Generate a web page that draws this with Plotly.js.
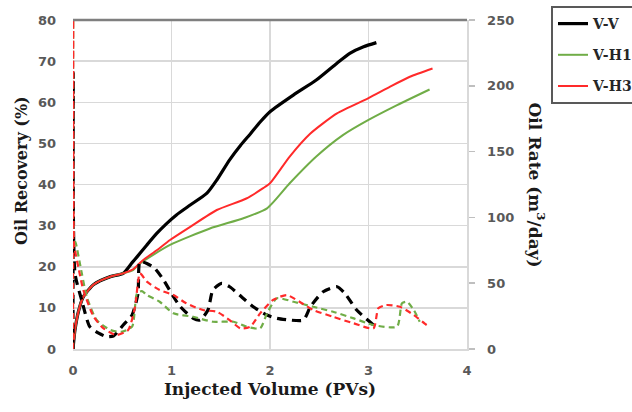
<!DOCTYPE html>
<html>
<head>
<meta charset="utf-8">
<script src="https://cdn.plot.ly/plotly-3.0.1.min.js"></script>
<style>html,body{margin:0;padding:0;background:#fff;}#chart{width:632px;height:412px;}</style>
</head>
<body>
<div id="chart"></div>
<script>
// ---- Oil recovery (%) vs injected volume (PVs), left axis ----
const vvRecX = [0,0.02,0.054,0.105,0.21,0.38,0.51,0.6,0.65,0.75,0.85,0.95,1.05,1.19,1.36,1.46,1.59,1.70,1.80,1.90,2.0,2.24,2.47,2.68,2.81,2.95,3.08];
const vvRecY = [0,4.6,9,12.7,15.7,17.6,18.4,21,22.4,25.3,28.1,30.5,32.6,35,37.9,41.1,46,49.5,52.3,55.2,57.7,61.8,65.4,69.5,71.9,73.5,74.5];

const h1RecX = [0,0.02,0.054,0.105,0.21,0.38,0.51,0.61,0.68,0.985,1.39,1.73,1.97,2.2,2.47,2.74,3.0,3.29,3.62];
const h1RecY = [0,4.6,9,12.7,15.7,17.6,18.4,19.2,20.8,25.3,29.3,31.8,34.2,40.3,46.8,52,55.7,59.3,63.1];

const h3RecX = [0,0.02,0.054,0.105,0.21,0.38,0.51,0.61,0.71,0.85,0.985,1.19,1.46,1.76,1.93,2.0,2.2,2.41,2.68,3.0,3.22,3.42,3.65];
const h3RecY = [0,4.6,9,12.7,15.7,17.6,18.4,19.4,21.6,24,26.5,29.7,33.8,36.6,39.1,40.3,46.8,52.4,57.3,61,63.8,66.2,68.2];

// ---- Oil rate (m3/day), right axis ----
const vvRateX = [0,0.003,0.02,0.088,0.17,0.26,0.34,0.41,0.51,0.60,0.66,0.68,0.75,0.83,0.92,1.02,1.09,1.22,1.29,1.37,1.42,1.51,1.59,1.71,1.83,1.97,2.07,2.20,2.34,2.41,2.54,2.68,2.76,2.88,3.05,3.08];
const vvRateY = [0,210,57.5,37.2,17,12,9.4,9.9,18.2,25.8,42.3,66.4,65,61.3,52.4,39.7,32.1,23.3,22,29.6,44.8,49.9,47.3,39.7,32.1,25.8,23.3,22,22,32.1,43.5,47.3,42.3,29.6,18.2,16];

const h1RateX = [0,0.002,0.01,0.03,0.07,0.14,0.24,0.38,0.49,0.60,0.65,0.70,0.75,0.88,1.02,1.22,1.42,1.63,1.76,1.90,1.97,2.07,2.24,2.44,2.64,2.85,3.05,3.29,3.34,3.39,3.46,3.52];
const h1RateY = [0,250,84,80,65,39.7,22,14.4,13.1,17,42.3,44,41,35.9,27.1,24.5,20.7,20.7,17,15.7,27.1,38.5,35.9,32.1,28.3,23.3,18.2,17,34.7,35.9,29.6,20.7];

const h3RateX = [0,0.002,0.01,0.02,0.06,0.105,0.21,0.31,0.44,0.56,0.63,0.68,0.75,0.88,1.02,1.15,1.32,1.46,1.59,1.70,1.80,1.90,2.03,2.17,2.30,2.44,2.64,2.85,3.05,3.10,3.18,3.32,3.46,3.59,3.62];
const h3RateY = [0,250,80,75,60,44.8,24.5,15.7,10.6,14.4,32.1,57.5,51.2,44.8,41,34.7,29.6,28.3,22,15.7,17,27.1,37.2,41,35.9,29.6,24.5,19.5,15.7,30.9,33.4,32.1,25.8,18.2,17];

const seriesNames = ['V-V','V-H1','V-H3'];
const colors = ['#000000','#70ad47','#ff2a2a'];

const tickFont = {family:'DejaVu Sans', size:13, weight:'bold', color:'#595959'};
const titleFont = {family:'DejaVu Serif', size:17, weight:'bold', color:'#1a1a1a'};

const recX = [vvRecX,h1RecX,h3RecX], recY = [vvRecY,h1RecY,h3RecY];
const rateX = [vvRateX,h1RateX,h3RateX], rateY = [vvRateY,h1RateY,h3RateY];
const solidW = [3.2,2,2], dashW = [3.2,2.2,2.2];
const dashPat = ['9px,6px','6px,4px','6px,4px'];

const traces = [];
for (let i=0;i<3;i++){
  traces.push({x:rateX[i], y:rateY[i], yaxis:'y2', type:'scatter', mode:'lines',
    line:{color:colors[i], width:dashW[i], dash:dashPat[i], shape:'spline', smoothing:0.6},
    showlegend:false, legendgroup:'g'+i, hoverinfo:'skip'});
}
for (let i=0;i<3;i++){
  traces.push({x:recX[i], y:recY[i], type:'scatter', mode:'lines', name:seriesNames[i],
    line:{color:colors[i], width:solidW[i], shape:'spline', smoothing:0.6},
    legendgroup:'g'+i});
}

const layout = {
  width:632, height:412,
  margin:{l:73, r:165, t:20, b:63, autoexpand:false},
  paper_bgcolor:'#ffffff', plot_bgcolor:'#ffffff',
  showlegend:true,
  legend:{xref:'container', yref:'container', x:551/632, xanchor:'left', y:1-6/412, yanchor:'top',
    bordercolor:'#595959', borderwidth:2, bgcolor:'#ffffff',
    font:{family:'DejaVu Serif', size:14, weight:'bold', color:'#262626'},
    tracegroupgap:10, traceorder:'grouped'},
  xaxis:{range:[0,4], tick0:0, dtick:1, showgrid:true, gridcolor:'#d9d9d9', gridwidth:1.5,
    zeroline:false, showline:true, linecolor:'#d9d9d9', linewidth:1.5, ticks:'', ticklabelstandoff:9,
    automargin:false, tickfont:tickFont, title:{text:'Injected Volume (PVs)', font:titleFont, standoff:6}},
  yaxis:{range:[0,80], tick0:0, dtick:10, showgrid:true, gridcolor:'#d9d9d9', gridwidth:1.5,
    zeroline:false, showline:false, ticks:'', ticklabelstandoff:16, automargin:false,
    tickfont:tickFont},
  yaxis2:{overlaying:'y', side:'right', range:[0,250], tick0:0, dtick:50, showgrid:false,
    zeroline:false, showline:true, linecolor:'#d9d9d9', linewidth:1.5, automargin:false,
    ticks:'outside', ticklen:6, tickcolor:'#bfbfbf', tickwidth:1.5, ticklabelstandoff:10,
    tickfont:tickFont},
  shapes:[{type:'line', xref:'paper', yref:'paper', x0:0, x1:1, y0:1, y1:1,
    line:{color:'#7f7f7f', width:2.5}}],
  annotations:[
    {xref:'paper', yref:'paper', x:(537-73)/394, y:0.5, xanchor:'center', yanchor:'middle',
     text:'Oil Rate (m<sup>3</sup>/day)', textangle:90, showarrow:false, font:titleFont},
    {xref:'paper', yref:'paper', x:(21-73)/394, y:(349-171)/329, xanchor:'center', yanchor:'middle',
     text:'Oil Recovery (%)', textangle:-90, showarrow:false,
     font:{family:'DejaVu Serif', size:16, weight:'bold', color:'#1a1a1a'}}
  ]
};

Plotly.newPlot('chart', traces, layout, {displayModeBar:false, staticPlot:true});
</script>
</body>
</html>
